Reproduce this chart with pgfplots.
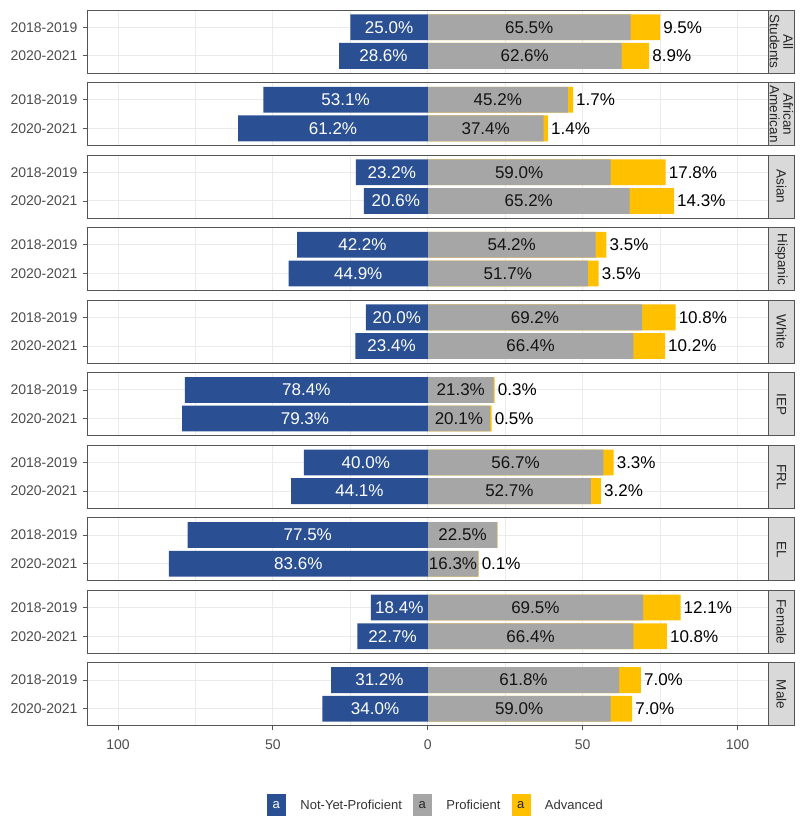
\documentclass[border=0pt]{standalone}
\usepackage{pgfplots}
\pgfplotsset{compat=1.18}
\usepackage{pgfplotstable}
\usepgfplotslibrary{groupplots}
\usepackage{fontspec}
\setmainfont{Liberation Sans}

\definecolor{npf}{HTML}{2A5093}
\definecolor{prof}{HTML}{A6A6A6}
\definecolor{adv}{HTML}{FFC000}
\definecolor{gridc}{HTML}{EBEBEB}
\definecolor{frame}{HTML}{555555}
\definecolor{tickc}{HTML}{4D4D4D}
\definecolor{stripc}{HTML}{D9D9D9}

\pgfplotstableread{
y npf prof adv
1 25.0 65.5 9.5
2 28.6 62.6 8.9
}\tAll
\pgfplotstableread{
y npf prof adv
1 53.1 45.2 1.7
2 61.2 37.4 1.4
}\tAfr
\pgfplotstableread{
y npf prof adv
1 23.2 59.0 17.8
2 20.6 65.2 14.3
}\tAsi
\pgfplotstableread{
y npf prof adv
1 42.2 54.2 3.5
2 44.9 51.7 3.5
}\tHis
\pgfplotstableread{
y npf prof adv
1 20.0 69.2 10.8
2 23.4 66.4 10.2
}\tWhi
\pgfplotstableread{
y npf prof adv
1 78.4 21.3 0.3
2 79.3 20.1 0.5
}\tIEP
\pgfplotstableread{
y npf prof adv
1 40.0 56.7 3.3
2 44.1 52.7 3.2
}\tFRL
\pgfplotstableread{
y npf prof adv
1 77.5 22.5 0.0
2 83.6 16.3 0.1
}\tEL
\pgfplotstableread{
y npf prof adv
1 18.4 69.5 12.1
2 22.7 66.4 10.8
}\tFem
\pgfplotstableread{
y npf prof adv
1 31.2 61.8 7.0
2 34.0 59.0 7.0
}\tMal

\newcommand\lblfont{\fontsize{17}{19}\selectfont}
\pgfplotsset{
  barstyle/.style={xbar, bar shift=0pt, bar width=25.8pt, draw=none, forget plot},
  lblstyle/.style={draw=none, mark=none, forget plot, point meta=explicit,
    nodes near coords={\pgfmathprintnumber[fixed,fixed zerofill,precision=1]{\pgfplotspointmeta}\%},
    every node near coord/.append style={font=\lblfont, inner sep=0pt}},
}

\newcommand\panel[3][]{%
\nextgroupplot[#1]
\addplot[barstyle, fill=adv] table[x expr=\thisrow{prof}+\thisrow{adv}, y=y]{#2};
\addplot[barstyle, fill=prof] table[x=prof, y=y]{#2};
\addplot[barstyle, fill=npf] table[x expr=-\thisrow{npf}, y=y]{#2};
\addplot[lblstyle, every node near coord/.append style={anchor=center, text=white}]
  table[x expr=-\thisrow{npf}/2, y=y, meta=npf]{#2};
\addplot[lblstyle, every node near coord/.append style={anchor=center, text=black!92}]
  table[x expr=\thisrow{prof}/2, y=y, meta=prof]{#2};
\addplot[lblstyle, restrict expr to domain={\thisrow{adv}}{0.05:1000},
  every node near coord/.append style={anchor=west, xshift=3pt, text=black}]
  table[x expr=\thisrow{prof}+\thisrow{adv}, y=y, meta=adv]{#2};
\draw[fill=stripc, draw=frame, line width=1pt] (axis description cs:1,0) rectangle ([xshift=26pt]axis description cs:1,1);
\node[rotate=-90, align=center, text=black!85, font=\fontsize{13.5}{13.5}\selectfont, inner sep=0pt]
  at ([xshift=13pt]axis description cs:1,0.5) {#3};
}

\begin{document}
\begin{tikzpicture}
\begin{groupplot}[
  group style={group size=1 by 10, vertical sep=9.5pt, xticklabels at=edge bottom},
  width=681pt, height=63pt, scale only axis,
  xmin=-110, xmax=110, ymin=0.4, ymax=2.6, y dir=reverse,
  ytick={1,2}, yticklabels={2018-2019,2020-2021},
  xtick={-100,-50,0,50,100}, xticklabels={100,50,0,50,100},
  minor xtick={-75,-25,25,75},
  xmajorgrids, xminorgrids, ymajorgrids,
  major grid style={gridc, line width=0.9pt},
  minor grid style={gridc, line width=0.5pt},
  axis line style={frame, line width=1pt},
  tick pos=left, tick align=outside,
  major tick length=4.5pt, minor tick length=0pt,
  ytick style={frame, line width=0.8pt},
  xtick style={draw=none},
  tick label style={text=tickc, font=\fontsize{14}{16}\selectfont},
  yticklabel style={xshift=-1.5pt},
  xticklabel style={yshift=-6pt},
  clip=false,
  /pgf/number format/assume math mode=true,
]
\panel{\tAll}{All\\Students}
\coordinate (TL) at (axis description cs:0,1);
\panel{\tAfr}{African\\American}
\panel{\tAsi}{Asian}
\panel{\tHis}{Hispanic}
\panel{\tWhi}{White}
\panel{\tIEP}{IEP}
\panel{\tFRL}{FRL}
\panel{\tEL}{EL}
\panel{\tFem}{Female}
\panel[xtick style={frame, line width=0.8pt, draw=frame},
  legend columns=3,
  legend style={draw=none, fill=none, at={(0.512,-1.254)}, anchor=center,
    font=\fontsize{13}{15}\selectfont, text=black!80,
    /tikz/every even column/.append style={column sep=9pt},
    /tikz/every odd column/.append style={column sep=13pt}},
]{\tMal}{Male}
\coordinate (BR) at (axis description cs:1,0);
\addlegendimage{legend image code/.code={\fill[npf] (0pt,-10pt) rectangle (18pt,11pt); \node[text=white, font=\fontsize{13}{13}\selectfont] at (9pt,0pt) {a};}}
\addlegendentry{Not-Yet-Proficient}
\addlegendimage{legend image code/.code={\fill[prof] (0pt,-10pt) rectangle (18pt,11pt); \node[text=black!85, font=\fontsize{13}{13}\selectfont] at (9pt,0pt) {a};}}
\addlegendentry{Proficient}
\addlegendimage{legend image code/.code={\fill[adv] (0pt,-10pt) rectangle (18pt,11pt); \node[text=black!85, font=\fontsize{13}{13}\selectfont] at (9pt,0pt) {a};}}
\addlegendentry{Advanced}
\end{groupplot}
\pgfresetboundingbox
\path[use as bounding box] ([shift={(-87pt,10pt)}]TL) rectangle ([shift={(31pt,-91pt)}]BR);
\end{tikzpicture}
\end{document}
